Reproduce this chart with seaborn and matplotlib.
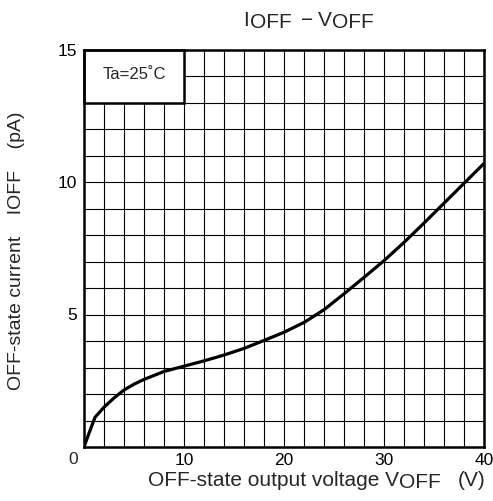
import numpy as np
import pandas as pd
import matplotlib
matplotlib.use("Agg")
import matplotlib.pyplot as plt
from matplotlib.patches import Rectangle
from matplotlib.transforms import IdentityTransform
import seaborn as sns

# --- data ---
voff = [0, 0.5, 1.1, 2, 3, 4, 5, 6, 8, 10, 12, 14, 16, 18, 20,
        22, 24, 26, 28, 30, 32, 34, 36, 38, 40]
ioff = [0, 0.52, 1.12, 1.5, 1.85, 2.15, 2.37, 2.55, 2.85, 3.05, 3.25,
        3.47, 3.72, 4.02, 4.33, 4.7, 5.18, 5.78, 6.4, 7.03, 7.72, 8.45,
        9.2, 9.95, 10.7]
x_ticks = [10, 20, 30, 40]
y_ticks = [5, 10, 15]
df = pd.DataFrame({"voff": voff, "ioff": ioff})

sns.set_style("white")
plt.rcParams["font.family"] = ["Liberation Sans", "DejaVu Sans"]

W, H = 493, 501
fig = plt.figure(figsize=(W / 100, H / 100), dpi=100)
ax = fig.add_axes([84 / W, (H - 447) / H, 400 / W, 397.5 / H])

# grid every 2 V and 1 pA
ax.set_xticks(np.arange(0, 41, 2), minor=True)
ax.set_yticks(np.arange(0, 16, 1), minor=True)
ax.set_axisbelow(True)
ax.grid(which="minor", color="black", linewidth=0.8)
ax.grid(which="major", color="black", linewidth=0.8)

sns.lineplot(data=df, x="voff", y="ioff", ax=ax, color="black",
             linewidth=2.3, zorder=3)

ax.set_xlim(0, 40)
ax.set_ylim(0, 15)
ax.set_xticks(x_ticks)
ax.set_yticks(y_ticks)
ax.tick_params(which="both", length=0, labelsize=12.5, colors="black")
ax.tick_params(axis="x", pad=4)
ax.tick_params(axis="y", pad=5)
ax.set_xlabel("")
ax.set_ylabel("")
for sp in ax.spines.values():
    sp.set_visible(True)
    sp.set_color("black")
    sp.set_linewidth(1.8)

# corner zero
ax.annotate("0", xy=(0, 0), xytext=(-11, -12), textcoords="offset pixels",
            ha="center", va="center", fontsize=12.5)

# condition box
ax.add_patch(Rectangle((0, 13), 10, 2, facecolor="white", edgecolor="black",
                       linewidth=1.8, zorder=2.5, clip_on=False))
ax.text(5, 14.05, "Ta=25˚C", ha="center", va="center", fontsize=12, zorder=4)


def rich(x, y, pieces, size):
    # pieces: (text, drop in px, gap after in px), left to right from pixel x
    r = fig.canvas.get_renderer()
    for s, drop, gap in pieces:
        t = fig.text(x, H - y - drop, s, transform=IdentityTransform(),
                     fontsize=size, va="baseline", ha="left")
        x += t.get_window_extent(r).width + gap


rich(243, 26, [("I", 0, 1), ("OFF", 2, 10), ("−", 0, 4), ("V", 0, 0),
               ("OFF", 2, 0)], 15)
rich(148, 486, [("OFF-state output voltage V", 0, 0), ("OFF", 2, 17),
                ("(V)", 0, 0)], 15)
fig.text(17 / W, (H - 251) / H, "OFF-state current    IOFF    (pA)",
         rotation=90, ha="center", va="center", fontsize=14)

fig.savefig("out.png", dpi=100)
